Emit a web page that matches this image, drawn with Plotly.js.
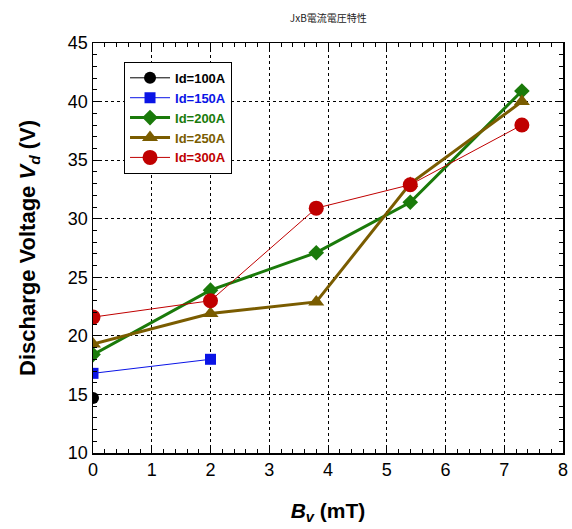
<!DOCTYPE html>
<html><head><meta charset="utf-8">
<script src="https://cdn.plot.ly/plotly-3.0.1.min.js"></script>
<style>body{margin:0;background:#fff}#c{width:572px;height:529px}</style>
</head><body><div id="c"></div>
<script>
const names = ["Id=100A","Id=150A","Id=200A","Id=250A","Id=300A"];
const x100 = [0];          const y100 = [14.7];
const x150 = [0, 2];       const y150 = [16.8, 18.0];
const x200 = [0, 2, 3.8, 5.4, 7.3]; const y200 = [18.4, 23.9, 27.1, 31.4, 40.9];
const x250 = [0, 2, 3.8, 5.4, 7.3]; const y250 = [19.3, 21.9, 22.9, 33.0, 40.0];
const x300 = [0, 2, 3.8, 5.4, 7.3]; const y300 = [21.6, 23.0, 30.9, 32.9, 38.0];
const xTicks = [0,1,2,3,4,5,6,7,8];
const yTicks = [10,15,20,25,30,35,40,45];

const colors = ["#000000","#0a14e6","#1a7a0a","#7a5c00","#c00000"];
const symbols = ["circle","square","diamond","triangle-up","circle"];
const msizes = [12, 11, 12, 14, 15];
const lwidths = [1, 1, 3, 3, 1];
const xs = [x100,x150,x200,x250,x300];
const ys = [y100,y150,y200,y250,y300];

const data = names.map((n,i)=>({
  x: xs[i], y: ys[i], type:'scatter', mode:'lines+markers',
  name: '<span style="color:'+colors[i]+'"><b>'+n+'</b></span>',
  line:{color:colors[i], width:lwidths[i]},
  marker:{color:colors[i], symbol:symbols[i], size:msizes[i]}
}));

const axCommon = {
  showline:true, mirror:'allticks', linecolor:'#000', linewidth:1.5,
  ticks:'inside', ticklen:7, tickwidth:1, tickcolor:'#000',
  showgrid:true, gridcolor:'#000', griddash:'dot', gridwidth:1,
  zeroline:false, tickfont:{family:'Liberation Sans, Arial', size:18, color:'#000'}
};

const layout = {
  width:572, height:529,
  margin:{l:93, r:9, t:43, b:76},
  paper_bgcolor:'#fff', plot_bgcolor:'#fff',
  font:{family:'Liberation Sans, Arial', color:'#000'},
  title:{text:'JxB電流電圧特性', font:{family:'Noto Sans CJK JP', size:10, color:'#222'},
         x:0.574, xanchor:'center', y:0.965, yanchor:'middle'},
  xaxis: Object.assign({}, axCommon, {
    range:[0,8], tickvals:xTicks, ticktext:xTicks.map(String),
    minor:{dtick:0.2, ticks:'inside', ticklen:4, tickcolor:'#000', showgrid:false},
    title:{text:'<b><i>B</i></b><sub><b><i>v</i></b></sub><b> (mT)</b>', font:{size:21, family:'Liberation Sans, Arial'}, standoff:24}
  }),
  yaxis: Object.assign({}, axCommon, {
    range:[10,45], tickvals:yTicks, ticktext:yTicks.map(String),
    minor:{dtick:1, ticks:'inside', ticklen:4, tickcolor:'#000', showgrid:false},
    title:{text:'<b>Discharge Voltage <i>V</i></b><sub><b><i>d</i></b></sub><b> (V)</b>', font:{size:22, family:'Liberation Sans, Arial'}, standoff:26}
  }),
  showlegend:true,
  legend:{x:0.066, y:0.954, xanchor:'left', yanchor:'top', bgcolor:'#fff',
          bordercolor:'#000', borderwidth:1, font:{size:13, family:'Liberation Sans, Arial'},
          tracegroupgap:0, itemwidth:40}
};

Plotly.newPlot('c', data, layout, {displayModeBar:false, staticPlot:true});
</script></body></html>
